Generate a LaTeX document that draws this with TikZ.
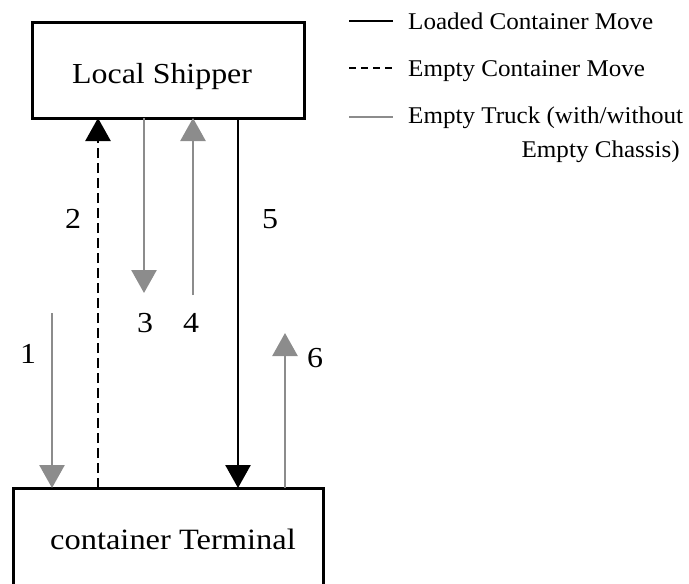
\documentclass[tikz,border=0pt]{standalone}
\usepackage{fontspec}
\setmainfont{Liberation Serif}
\newfontfamily\boxfont{Liberation Serif}[FakeStretch=1.1]
\newfontfamily\legfont{Liberation Serif}[FakeStretch=1.045]
\usetikzlibrary{arrows.meta}
\definecolor{truckgray}{RGB}{140,140,140}
\tikzset{
  boxstyle/.style={draw=black, line width=3pt, minimum width=#1, inner sep=0pt, outer sep=0pt},
  loaded/.style={draw=black, line width=2.6pt, -{Triangle[width=25pt,length=23pt]}},
  emptyc/.style={draw=black, line width=2.6pt, dash pattern=on 10pt off 5pt, -{Triangle[width=25pt,length=23pt]}},
  truck/.style={draw=truckgray, line width=2.6pt, -{Triangle[width=25pt,length=23pt]}},
  numlabel/.style={anchor=base west, inner sep=0pt, font=\boxfont\fontsize{29}{29}\selectfont},
  legtext/.style={inner sep=0pt, font=\legfont\fontsize{24}{24}\selectfont},
  legline/.style={line width=2.6pt},
}
\begin{document}
\begin{tikzpicture}[x=1pt,y=-1pt]
\useasboundingbox (0,0) rectangle (689,584);
\clip (0,0) rectangle (689,584);
% boxes
\node[boxstyle=272pt, minimum height=96pt] (ship) at (168,70) {};
\node[boxstyle=310pt, minimum height=104pt] (term) at (168,540) {};
\node[anchor=base west, inner sep=0pt, font=\boxfont\fontsize{29}{29}\selectfont] (shiptext) at (72,83) {Local Shipper};
\node[anchor=base west, inner sep=0pt, font=\boxfont\fontsize{29.5}{29.5}\selectfont] (termtext) at (50,549) {container Terminal};
% free ends
\coordinate (s1) at (52,313);
\coordinate (e3) at (144,293);
\coordinate (s4) at (193,295);
\coordinate (e6) at (285,333);
% arrows
\draw[truck] (s1) -- (s1 |- term.north);
\draw[emptyc] (98,0 |- term.north) -- (98,0 |- ship.south);
\draw[truck] (e3 |- ship.south) -- (e3);
\draw[truck] (s4) -- (s4 |- ship.south);
\draw[loaded] (238,0 |- ship.south) -- (238,0 |- term.north);
\draw[truck] (e6 |- term.north) -- (e6);
% labels
\node[numlabel] (n1) at (20,363) {1};
\node[numlabel] (n2) at (65,228) {2};
\node[numlabel] (n3) at (137,332) {3};
\node[numlabel] (n4) at (183,332) {4};
\node[numlabel] (n5) at (262,228) {5};
\node[numlabel] (n6) at (307,367) {6};
% legend
\coordinate (l1a) at (349,21); \coordinate (l1b) at (393,21);
\coordinate (l2a) at (349,68); \coordinate (l2b) at (393,68);
\coordinate (l3a) at (349,117); \coordinate (l3b) at (393,117);
\draw[legline, black] (l1a) -- (l1b);
\draw[legline, black, dash pattern=on 7pt off 5pt] (l2a) -- (l2b);
\draw[legline, truckgray] (l3a) -- (l3b);
\node[legtext, anchor=base west] (lt1) at (408,29) {Loaded Container Move};
\node[legtext, anchor=base west] (lt2) at (408,76) {Empty Container Move};
\node[legtext, anchor=base west] (lt3) at (408,123) {Empty Truck (with/without};
\node[legtext, anchor=base east] (lt4) at (680,157) {Empty Chassis)};
\end{tikzpicture}
\end{document}
